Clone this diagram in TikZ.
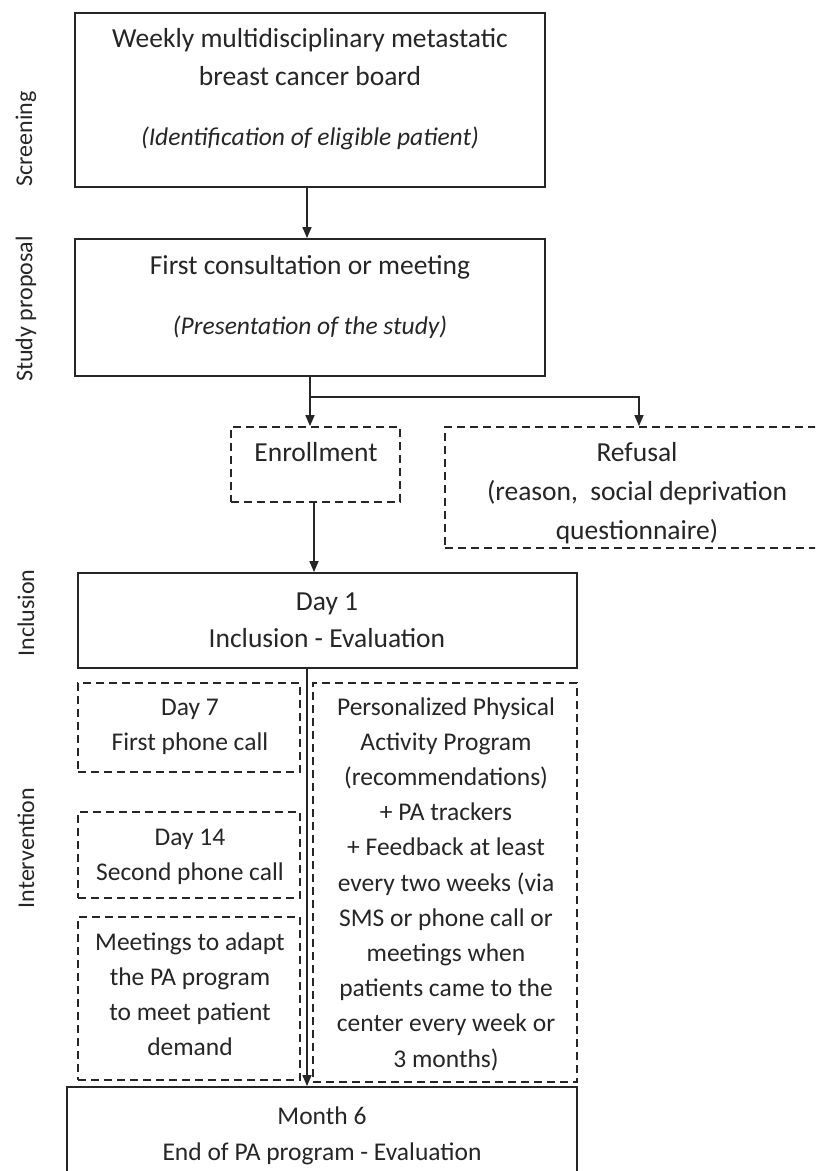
\documentclass[tikz,border=0pt]{standalone}
\usepackage{fontspec}
\setmainfont{Carlito}
\usetikzlibrary{arrows.meta,calc}
\definecolor{ink}{HTML}{262626}
\begin{document}
\begin{tikzpicture}[x=1pt,y=-1pt,
  box/.style={draw=ink,line width=1.8pt,inner sep=0pt},
  dbox/.style={box,dash pattern=on 8pt off 5pt},
  txt/.style={text=ink,align=center,anchor=base,inner sep=0pt,font=\fontsize{25.5}{35}\selectfont},
  bigtxt/.style={txt,font=\fontsize{27.5}{38}\selectfont},
  side/.style={text=ink,rotate=90,inner sep=0pt,font=\fontsize{24}{28}\selectfont},
  arr/.style={draw=ink,line width=1.5pt,-{Triangle[length=11pt,width=9pt]}},
  ln/.style={draw=ink,line width=1.5pt}]
\useasboundingbox (0,0) rectangle (815,1171);
\clip (0,0) rectangle (815,1171);
\fill[white] (0,0) rectangle (815,1171);
% boxes
\node[box,minimum width=470,minimum height=174] (b1) at (310,100) {};
\node[box,minimum width=470,minimum height=137] (b2) at (310,307.5) {};
\node[dbox,minimum width=169,minimum height=75] (enr) at (315.5,464.5) {};
\node[dbox,minimum width=385,minimum height=121] (ref) at (637.5,487.5) {};
\node[box,minimum width=499,minimum height=95] (d1) at (327.5,620.5) {};
\node[dbox,minimum width=222,minimum height=89] (d7) at (189,727.5) {};
\node[dbox,minimum width=264,minimum height=399] (pa) at (445,882.5) {};
\node[dbox,minimum width=222,minimum height=86] (d14) at (189,855) {};
\node[dbox,minimum width=222,minimum height=163] (meet) at (189,998.5) {};
\node[box,minimum width=510,minimum height=113] (m6) at (322,1143.5) {};
% texts (base = baseline of last line)
\node[bigtxt] (t1) at (310,85) {Weekly multidisciplinary metastatic\\breast cancer board};
\node[txt] (t1i) at (310,145) {\itshape (Identification of eligible patient)};
\node[bigtxt] (t2) at (310,274) {First consultation or meeting};
\node[txt] (t2i) at (310,334) {\itshape (Presentation of the study)};
\node[bigtxt] (tenr) at (316,461) {Enrollment};
\node[bigtxt,font=\fontsize{27.5}{39}\selectfont] (tref) at (637,539) {Refusal\\(reason,\ \ social deprivation\\questionnaire)};
\node[bigtxt,font=\fontsize{27.5}{37}\selectfont] (td1) at (327,647) {Day 1\\Inclusion - Evaluation};
\node[txt] (td7) at (190,750) {Day 7\\First phone call};
\node[txt,font=\fontsize{25.5}{35.2}\selectfont] (tpa) at (446,1067) {Personalized Physical\\Activity Program\\(recommendations)\\+ PA trackers\\+ Feedback at least\\every two weeks (via\\SMS or phone call or\\meetings when\\patients came to the\\center every week or\\3 months)};
\node[txt] (td14) at (190,880) {Day 14\\Second phone call};
\node[txt] (tmeet) at (190,1055) {Meetings to adapt\\the PA program\\to meet patient\\demand};
\node[txt,font=\fontsize{25.5}{36}\selectfont] (tm6) at (322,1160) {Month 6\\End of PA program - Evaluation};
% side labels
\node[side] (s1) at (26,139) {Screening};
\node[side] (s2) at (26,309) {Study proposal};
\node[side] (s3) at (26,613) {Inclusion};
\node[side] (s4) at (26,848) {Intervention};
% connectors
\draw[arr] ([xshift=-3pt]b1.south) -- ([xshift=-3pt]b2.north);
\draw[ln] (b2.south) -- ++(0,20) coordinate (br);
\draw[arr] (br) -| ([xshift=1.5pt]ref.north);
\draw[arr] (br) -- (br |- enr.north);
\draw[arr] ([xshift=-1.5pt]enr.south) -- ([xshift=-1.5pt]enr.south |- d1.north);
\draw[arr] ([xshift=-20.5pt]d1.south) -- ([xshift=-20.5pt]d1.south |- m6.north);
\end{tikzpicture}
\end{document}
